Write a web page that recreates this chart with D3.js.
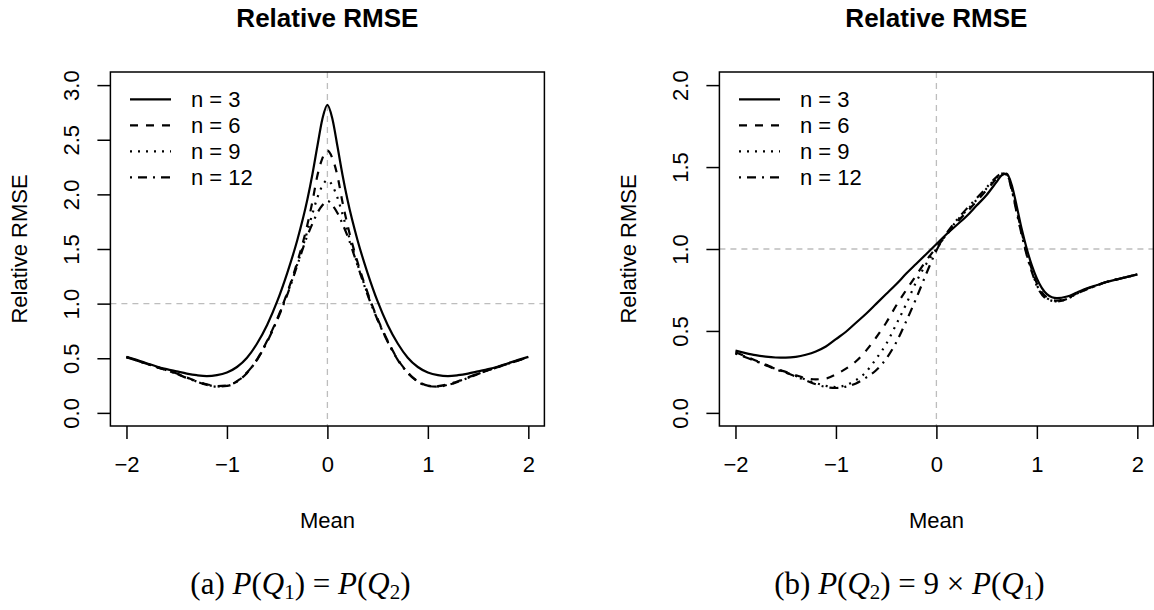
<!DOCTYPE html>
<html>
<head>
<meta charset="utf-8">
<script src="https://cdn.jsdelivr.net/npm/d3@7"></script>
<style>
  body { margin: 0; background: #fff; }
  svg { display: block; }
  text { font-family: "Liberation Sans", Arial, Helvetica, sans-serif; }
</style>
</head>
<body>
<svg id="chart" width="1154" height="610"></svg>
<script>
// data
var seriesNames = ["n = 3", "n = 6", "n = 9", "n = 12"];
var xTicks = [-2, -1, 0, 1, 2];
var yTicksA = [0, 0.5, 1, 1.5, 2, 2.5, 3];
var yTicksB = [0, 0.5, 1, 1.5, 2];

// panel (a): P(Q1) = P(Q2)
var meanA = [-2.0, -1.9, -1.8, -1.7, -1.6, -1.5, -1.4, -1.3, -1.2, -1.1, -1.0, -0.9, -0.8, -0.7, -0.6, -0.5, -0.4, -0.3,
             -0.2, -0.15, -0.1, -0.05, 0, 0.05, 0.1, 0.15, 0.2,
             0.3, 0.4, 0.5, 0.6, 0.7, 0.8, 0.9, 1.0, 1.1, 1.2, 1.3, 1.4, 1.5, 1.6, 1.7, 1.8, 1.9, 2.0];
var a_n3 = [0.513, 0.485, 0.455, 0.425, 0.40, 0.38, 0.36, 0.345, 0.337, 0.345, 0.37, 0.42, 0.505, 0.635, 0.805, 1.02, 1.28, 1.58,
            1.95, 2.18, 2.44, 2.69, 2.82, 2.69, 2.44, 2.18, 1.95,
            1.58, 1.28, 1.02, 0.805, 0.635, 0.505, 0.42, 0.37, 0.345, 0.337, 0.345, 0.36, 0.38, 0.40, 0.425, 0.455, 0.485, 0.513];
var a_n6 = [0.51, 0.48, 0.45, 0.42, 0.39, 0.36, 0.325, 0.29, 0.262, 0.245, 0.25, 0.29, 0.37, 0.49, 0.66, 0.86, 1.10, 1.38,
            1.72, 1.93, 2.17, 2.33, 2.40, 2.33, 2.17, 1.93, 1.72,
            1.38, 1.10, 0.86, 0.66, 0.49, 0.37, 0.29, 0.25, 0.245, 0.262, 0.29, 0.325, 0.36, 0.39, 0.42, 0.45, 0.48, 0.51];
var a_n9 = [0.51, 0.48, 0.45, 0.42, 0.39, 0.358, 0.322, 0.287, 0.258, 0.242, 0.248, 0.288, 0.368, 0.488, 0.655, 0.855, 1.09, 1.36,
            1.66, 1.82, 1.97, 2.08, 2.13, 2.08, 1.97, 1.82, 1.66,
            1.36, 1.09, 0.855, 0.655, 0.488, 0.368, 0.288, 0.248, 0.242, 0.258, 0.287, 0.322, 0.358, 0.39, 0.42, 0.45, 0.48, 0.51];
var a_n12 = [0.51, 0.48, 0.45, 0.42, 0.39, 0.357, 0.32, 0.285, 0.256, 0.24, 0.246, 0.286, 0.366, 0.486, 0.65, 0.85, 1.08, 1.35,
             1.62, 1.73, 1.83, 1.90, 1.94, 1.90, 1.83, 1.73, 1.62,
             1.35, 1.08, 0.85, 0.65, 0.486, 0.366, 0.286, 0.246, 0.24, 0.256, 0.285, 0.32, 0.357, 0.39, 0.42, 0.45, 0.48, 0.51];

// panel (b): P(Q2) = 9 x P(Q1)
var meanB = [-2.0, -1.9, -1.8, -1.7, -1.6, -1.5, -1.4, -1.3, -1.2, -1.1, -1.0, -0.9, -0.8, -0.7, -0.6, -0.5, -0.4, -0.3, -0.2, -0.1,
             0, 0.1, 0.2, 0.3, 0.4, 0.5, 0.6, 0.65, 0.7, 0.75, 0.8, 0.85, 0.9, 0.95,
             1.0, 1.1, 1.2, 1.3, 1.4, 1.5, 1.6, 1.7, 1.8, 1.9, 2.0];
var b_n3 = [0.38, 0.365, 0.352, 0.343, 0.338, 0.337, 0.342, 0.355, 0.375, 0.405, 0.45, 0.495, 0.55, 0.605, 0.665, 0.725, 0.785, 0.85, 0.91, 0.97,
            1.03, 1.09, 1.145, 1.20, 1.265, 1.33, 1.41, 1.45, 1.46, 1.39, 1.26, 1.12, 1.00, 0.90,
            0.82, 0.725, 0.70, 0.71, 0.735, 0.76, 0.78, 0.80, 0.815, 0.83, 0.845];
var b_n6 = [0.37, 0.345, 0.32, 0.295, 0.27, 0.25, 0.23, 0.212, 0.205, 0.21, 0.235, 0.27, 0.315, 0.38, 0.46, 0.55, 0.655, 0.75, 0.84, 0.93,
            1.01, 1.085, 1.16, 1.225, 1.29, 1.36, 1.43, 1.46, 1.455, 1.37, 1.235, 1.10, 0.975, 0.875,
            0.79, 0.705, 0.685, 0.70, 0.73, 0.757, 0.78, 0.80, 0.815, 0.83, 0.845];
var b_n9 = [0.365, 0.342, 0.318, 0.293, 0.268, 0.247, 0.225, 0.203, 0.182, 0.165, 0.158, 0.17, 0.20, 0.25, 0.33, 0.42, 0.54, 0.665, 0.80, 0.91,
            1.00, 1.09, 1.17, 1.235, 1.30, 1.37, 1.435, 1.46, 1.455, 1.365, 1.225, 1.09, 0.965, 0.865,
            0.78, 0.70, 0.68, 0.695, 0.728, 0.755, 0.778, 0.80, 0.815, 0.83, 0.845];
var b_n12 = [0.362, 0.34, 0.316, 0.291, 0.266, 0.245, 0.222, 0.198, 0.175, 0.158, 0.152, 0.16, 0.18, 0.215, 0.26, 0.33, 0.43, 0.56, 0.70, 0.85,
             0.99, 1.095, 1.175, 1.245, 1.31, 1.375, 1.44, 1.46, 1.455, 1.36, 1.22, 1.085, 0.96, 0.86,
             0.775, 0.695, 0.68, 0.695, 0.728, 0.755, 0.778, 0.80, 0.815, 0.83, 0.845];

var dashes = [null, "8,8", "2,6", "2,6,9,6"];

var panels = [
  { left: 110.4, ymax: 3, yTicks: yTicksA, x: meanA, series: [a_n3, a_n6, a_n9, a_n12],
    caption: [["(a) ", ""], ["P", "i"], ["(", ""], ["Q", "i"], ["1", "s"], [") = ", ""], ["P", "i"], ["(", ""], ["Q", "i"], ["2", "s"], [")", ""]] },
  { left: 719.4, ymax: 2, yTicks: yTicksB, x: meanB, series: [b_n3, b_n6, b_n9, b_n12],
    caption: [["(b) ", ""], ["P", "i"], ["(", ""], ["Q", "i"], ["2", "s"], [") = 9 \u00d7 ", ""], ["P", "i"], ["(", ""], ["Q", "i"], ["1", "s"], [")", ""]] }
];

var boxW = 434, plotTop = 72, plotBottom = 426;
var svg = d3.select("#chart");

panels.forEach(function(p) {
  var ext = 0.04 * 4;
  var x = d3.scaleLinear().domain([-2 - ext, 2 + ext]).range([p.left, p.left + boxW]);
  var yext = 0.04 * p.ymax;
  var y = d3.scaleLinear().domain([-yext, p.ymax + yext]).range([plotBottom, plotTop]);
  var g = svg.append("g");

  // reference lines
  g.append("line").attr("x1", p.left).attr("x2", p.left + boxW)
    .attr("y1", y(1)).attr("y2", y(1))
    .attr("stroke", "#bdbdbd").attr("stroke-width", 1.3).attr("stroke-dasharray", "6,5");
  g.append("line").attr("x1", x(0)).attr("x2", x(0))
    .attr("y1", plotTop).attr("y2", plotBottom)
    .attr("stroke", "#bdbdbd").attr("stroke-width", 1.3).attr("stroke-dasharray", "6,5");

  var line = d3.line()
    .x(function(d) { return x(d[0]); })
    .y(function(d) { return y(d[1]); })
    .curve(d3.curveMonotoneX);

  p.series.forEach(function(vals, i) {
    g.append("path")
      .datum(p.x.map(function(m, j) { return [m, vals[j]]; }))
      .attr("d", line)
      .attr("fill", "none")
      .attr("stroke", "#000")
      .attr("stroke-width", 2.2)
      .attr("stroke-dasharray", dashes[i]);
  });

  // box
  g.append("rect").attr("x", p.left).attr("y", plotTop)
    .attr("width", boxW).attr("height", plotBottom - plotTop)
    .attr("fill", "none").attr("stroke", "#000").attr("stroke-width", 1.5);

  // x axis
  var xa = g.append("g").attr("transform", "translate(0," + plotBottom + ")")
    .call(d3.axisBottom(x).tickValues(xTicks).tickSize(13)
      .tickFormat(function(d) { return d < 0 ? "\u2212" + (-d) : d; }));
  xa.select(".domain").remove();
  xa.selectAll("line").attr("stroke", "#000").attr("stroke-width", 1.5);
  xa.selectAll("text").attr("y", 46).attr("dy", 0)
    .attr("font-size", 22).attr("fill", "#000");

  // y axis
  var ya = g.append("g").attr("transform", "translate(" + p.left + ",0)")
    .call(d3.axisLeft(y).tickValues(p.yTicks).tickSize(13).tickFormat(d3.format(".1f")));
  ya.select(".domain").remove();
  ya.selectAll("line").attr("stroke", "#000").attr("stroke-width", 1.5);
  ya.selectAll("text")
    .attr("x", 0).attr("y", 0).attr("dy", "0.35em")
    .attr("text-anchor", "middle")
    .attr("transform", "translate(-38.7,0) rotate(-90)")
    .attr("font-size", 22).attr("fill", "#000");

  var cx = p.left + boxW / 2;
  g.append("text").attr("x", cx).attr("y", 27)
    .attr("text-anchor", "middle").attr("font-size", 26).attr("font-weight", "bold")
    .text("Relative RMSE");
  g.append("text").attr("x", cx).attr("y", 528)
    .attr("text-anchor", "middle").attr("font-size", 22)
    .text("Mean");
  g.append("text")
    .attr("transform", "translate(" + (p.left - 91.4) + "," + ((plotTop + plotBottom) / 2) + ") rotate(-90)")
    .attr("dy", "0.35em")
    .attr("text-anchor", "middle").attr("font-size", 22)
    .text("Relative RMSE");

  // legend
  var lg = g.append("g");
  seriesNames.forEach(function(name, i) {
    var ly = plotTop + 27.3 + i * 26;
    lg.append("line").attr("x1", p.left + 19.6).attr("x2", p.left + 60.6)
      .attr("y1", ly).attr("y2", ly)
      .attr("stroke", "#000").attr("stroke-width", 2.2)
      .attr("stroke-dasharray", dashes[i]);
    lg.append("text").attr("x", p.left + 80.6).attr("y", ly).attr("dy", "0.35em")
      .attr("font-size", 22).text(name);
  });

  // caption
  var cap = g.append("text").attr("x", cx - 27).attr("y", 594)
    .attr("text-anchor", "middle")
    .style("font-family", "'Liberation Serif', 'DejaVu Serif', serif")
    .attr("font-size", 31);
  var sub = false;
  p.caption.forEach(function(c) {
    var t = cap.append("tspan").text(c[0]);
    if (c[1] === "i") t.attr("font-style", "italic");
    if (c[1] === "s") { t.attr("font-size", 21).attr("dy", 5); sub = true; }
    else if (sub) { t.attr("dy", -5); sub = false; }
  });
});
</script>
</body>
</html>
